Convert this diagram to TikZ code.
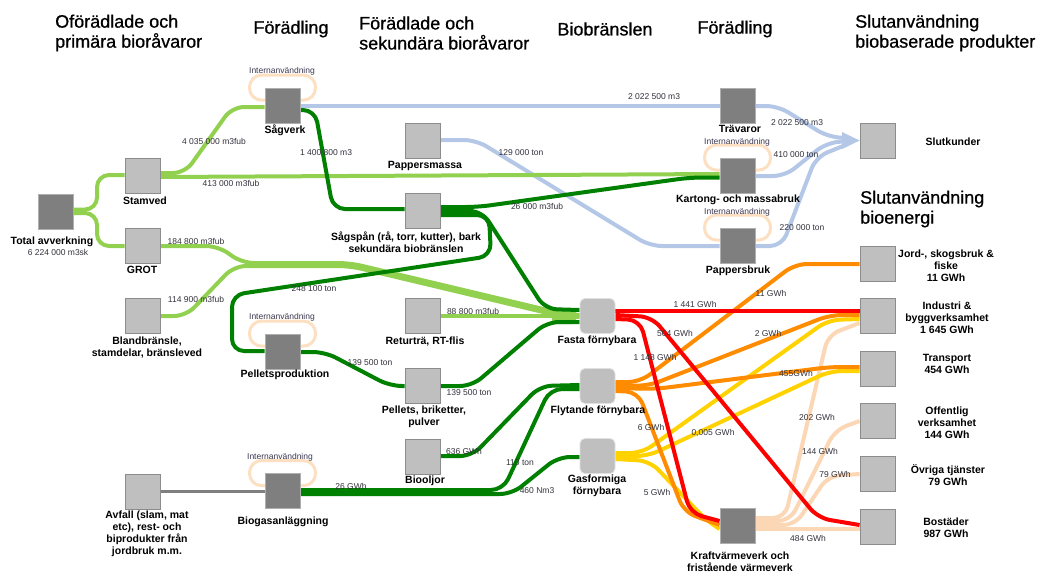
\documentclass[tikz,border=0pt]{standalone}
\usepackage{fontspec}
\setmainfont{Liberation Sans}
\newfontfamily\hdfont{Liberation Sans}[BoldFont={*}, BoldFeatures={FakeBold=0.7}]
\usetikzlibrary{calc}
\pgfdeclarelayer{bg}
\pgfsetlayers{bg,main}
\definecolor{lgc}{RGB}{146,208,80}
\definecolor{dgc}{RGB}{0,128,0}
\definecolor{blc}{RGB}{180,199,231}
\definecolor{rdc}{RGB}{255,0,0}
\definecolor{orc}{RGB}{255,140,0}
\definecolor{ylc}{RGB}{255,210,0}
\definecolor{pcc}{RGB}{252,215,182}
\definecolor{pcl}{RGB}{253,223,194}
\definecolor{lboxf}{RGB}{191,191,191}
\definecolor{lboxd}{RGB}{140,140,140}
\definecolor{dboxf}{RGB}{127,127,127}
\definecolor{dboxd}{RGB}{175,175,175}
\definecolor{smtxt}{RGB}{50,50,60}
\definecolor{intxt}{RGB}{60,55,80}
\begin{document}
\begin{tikzpicture}[x=1pt,y=-1pt,
  lbox/.style={draw=lboxd, fill=lboxf, minimum width=35pt, minimum height=35pt, inner sep=0pt, line width=0.8pt},
  dbox/.style={draw=dboxd, fill=dboxf, minimum width=35pt, minimum height=35pt, inner sep=0pt, line width=0.8pt},
  rbox/.style={draw=black!12, fill=lboxf, minimum width=35pt, minimum height=35pt, inner sep=0pt, line width=0.8pt, rounded corners=5pt},
  blab/.style={font=\fontsize{10.5}{12}\selectfont\bfseries, align=center, inner sep=0pt, text=black},
  sm/.style={font=\fontsize{8.5}{10}\selectfont, inner sep=0pt, text=smtxt},
  intl/.style={font=\fontsize{8.5}{10}\selectfont, inner sep=0pt, text=intxt},
  hd/.style={font=\hdfont\bfseries\fontsize{18}{20}\selectfont, align=left, anchor=west, inner sep=0pt},
  flow/.style={line width=4pt, rounded corners=12pt},
  lgf/.style={flow, draw=lgc},
  dgf/.style={flow, draw=dgc},
  blf/.style={flow, draw=blc},
  rdf/.style={flow, draw=rdc},
  orf/.style={flow, draw=orc},
  ylf/.style={flow, draw=ylc},
  pcf/.style={flow, draw=pcc},
  loopr/.style={draw=pcl, line width=3pt, rounded corners=12pt}
]
\useasboundingbox (0,0) rectangle (1040,574);

% ---------- boxes ----------
\node[dbox] (tot) at (55.5,211.5) {};
\node[lbox] (stam) at (142.5,175.5) {};
\node[lbox] (grot) at (142.5,246) {};
\node[lbox] (bland) at (142.5,315.5) {};
\node[lbox] (avf) at (142.5,491.5) {};
\node[dbox] (sag) at (282.5,105.5) {};
\node[dbox] (pelp) at (282.5,351.5) {};
\node[dbox] (bgas) at (282.5,491) {};
\node[lbox] (pmas) at (422.5,140.5) {};
\node[lbox] (sspan) at (422.5,210.5) {};
\node[lbox] (retur) at (422.5,315.5) {};
\node[lbox] (pell) at (422.5,386) {};
\node[lbox] (bool) at (422.5,456.5) {};
\node[rbox] (fasta) at (597.5,316) {};
\node[rbox] (flyt) at (597.5,386) {};
\node[rbox] (gas) at (597.5,456) {};
\node[dbox] (trav) at (737.5,105.5) {};
\node[dbox] (kart) at (737.5,175.5) {};
\node[dbox] (papb) at (737.5,245.5) {};
\node[dbox] (kvv) at (737.5,526) {};
\node[lbox] (slut) at (877.5,140.5) {};
\node[lbox] (jord) at (877.5,263.5) {};
\node[lbox] (ind) at (877.5,316) {};
\node[lbox] (trans) at (877.5,368.5) {};
\node[lbox] (off) at (877.5,421) {};
\node[lbox] (ovr) at (877.5,473.5) {};
\node[lbox] (bost) at (877.5,526.5) {};

% ---------- headings ----------
\node[hd] (h1) at (55,33) {Oförädlade och\\primära bioråvaror};
\node[hd, anchor=center] (h2) at (291,29) {Förädling};
\node[hd] (h3) at (359,33) {Förädlade och\\sekundära bioråvaror};
\node[hd, anchor=center] (h4) at (605,29) {Biobränslen};
\node[hd, anchor=center] (h5) at (735,29) {Förädling};
\node[hd] (h6) at (855,33) {Slutanvändning\\biobaserade produkter};
\node[hd] (h7) at (860,209) {Slutanvändning\\bioenergi};

% ---------- box labels ----------
\node[blab] (ltot) at (52,242) {Total avverkning};
\node[sm] (vtot) at (58,252) {6 224 000 m3sk};
\node[blab] (lstam) at (145,201) {Stamved};
\node[blab] (lgrot) at (142,270) {GROT};
\node[blab] (lbland) at (147,347) {Blandbränsle,\\stamdelar, bränsleved};
\node[blab] (lavf) at (147,534) {Avfall (slam, mat\\etc), rest- och\\biprodukter från\\jordbruk m.m.};
\node[blab] (lsag) at (285,130) {Sågverk};
\node[blab] (lpelp) at (285,375) {Pelletsproduktion};
\node[blab] (lbgas) at (283,522) {Biogasanläggning};
\node[blab] (lpmas) at (425,166) {Pappersmassa};
\node[blab] (lsspan) at (406,242) {Sågspån (rå, torr, kutter), bark\\sekundära biobränslen};
\node[blab] (lretur) at (425,341) {Returträ, RT-flis};
\node[blab] (lpell) at (424,417) {Pellets, briketter,\\pulver};
\node[blab] (lbool) at (425,481) {Biooljor};
\node[blab] (lfasta) at (597,341) {Fasta förnybara};
\node[blab] (lflyt) at (598,411) {Flytande förnybara};
\node[blab] (lgas) at (597,486) {Gasformiga\\förnybara};
\node[blab] (ltrav) at (740,129) {Trävaror};
\node[blab] (lkart) at (738,200) {Kartong- och massabruk};
\node[blab] (lpapb) at (738,271) {Pappersbruk};
\node[blab] (lkvv) at (740,562) {Kraftvärmeverk och\\fristående värmeverk};
\node[blab] (lslut) at (953,142) {Slutkunder};
\node[blab] (ljord) at (946,265.5) {Jord-, skogsbruk \&\\fiske\\11 GWh};
\node[blab] (lind) at (947,317.5) {Industri \&\\byggverksamhet\\1 645 GWh};
\node[blab] (ltrans) at (947,364) {Transport\\454 GWh};
\node[blab] (loff) at (947,422.5) {Offentlig\\verksamhet\\144 GWh};
\node[blab] (lovr) at (948,475) {Övriga tjänster\\79 GWh};
\node[blab] (lbost) at (946,527.5) {Bostäder\\987 GWh};

% ---------- Internanvändning ----------
\node[intl] (isag) at (282,71) {Internanvändning};
\node[intl] (ipelp) at (282,317) {Internanvändning};
\node[intl] (ibgas) at (280,457) {Internanvändning};
\node[intl] (ikart) at (737,142) {Internanvändning};
\node[intl] (ipapb) at (737,212) {Internanvändning};

% ---------- flow labels ----------
\node[sm] (f1) at (214,141) {4 035 000 m3fub};
\node[sm] (f2) at (231,183) {413 000 m3fub};
\node[sm] (f3) at (326,153) {1 400 800 m3};
\node[sm] (f4) at (654,97) {2 022 500 m3};
\node[sm] (f5) at (521,153) {129 000 ton};
\node[sm] (f6) at (537,206) {26 000 m3fub};
\node[sm] (f7) at (797,123) {2 022 500 m3};
\node[sm] (f8) at (796,155) {410 000 ton};
\node[sm] (f9) at (802,228) {220 000 ton};
\node[sm] (f10) at (196,241) {184 800 m3fub};
\node[sm] (f11) at (196,299) {114 900 m3fub};
\node[sm] (f12) at (314,289) {248 100 ton};
\node[sm] (f13) at (473,311) {88 800 m3fub};
\node[sm] (f14) at (370,363) {139 500 ton};
\node[sm] (f15) at (469,393) {139 500 ton};
\node[sm] (f16) at (464,451) {636 GWh};
\node[sm] (f17) at (520,463) {110 ton};
\node[sm] (f18) at (537,491) {460 Nm3};
\node[sm] (f19) at (351,486) {26 GWh};
\node[sm] (f20) at (695,304) {1 441 GWh};
\node[sm] (f21) at (675,333) {504 GWh};
\node[sm] (f22) at (655,357) {1 148 GWh};
\node[sm] (f23) at (771,293) {11 GWh};
\node[sm] (f24) at (768,333) {2 GWh};
\node[sm] (f25) at (796,373) {455GWh};
\node[sm] (f26) at (651,427) {6 GWh};
\node[sm] (f27) at (713,433) {0,005 GWh};
\node[sm] (f28) at (657,492) {5 GWh};
\node[sm] (f29) at (817,417) {202 GWh};
\node[sm] (f30) at (820,451) {144 GWh};
\node[sm] (f31) at (835,474) {79 GWh};
\node[sm] (f32) at (808,538) {484 GWh};

% ---------- flows (background) ----------
\begin{pgfonlayer}{bg}
\fill[white] (0,0) rectangle (1040,574);
% Internal-use loops
\draw[loopr] ([xshift=-33pt,yshift=12.5pt]sag.north) rectangle ([xshift=33pt,yshift=-12.5pt]sag.north);
\draw[loopr] ([xshift=-33pt,yshift=12.5pt]pelp.north) rectangle ([xshift=33pt,yshift=-12.5pt]pelp.north);
\draw[loopr] ([xshift=-33pt,yshift=12.5pt]bgas.north) rectangle ([xshift=33pt,yshift=-12.5pt]bgas.north);
\draw[loopr] ([xshift=-33pt,yshift=12.5pt]kart.north) rectangle ([xshift=33pt,yshift=-12.5pt]kart.north);
\draw[loopr] ([xshift=-33pt,yshift=12.5pt]papb.north) rectangle ([xshift=33pt,yshift=-12.5pt]papb.north);

% blue flows
\draw[blf] (pmas.east |- 0,140) -- (476,140) -- (650,246) -- (papb.west |- 0,246);
\draw[blf] (sag.east |- 0,106) -- (trav.west |- 0,106);
\draw[blf] (trav.east |- 0,106) -- (778,106) -- (828,137) -- (848,138);
\draw[blf] (kart.east |- 0,176) -- (785,176) -- (826,143) -- (848,141);
\draw[blf] (papb.east |- 0,246) -- (782,246) -- (816,157) -- (848,144);
\fill[blc] (842,132) -- (slut.west) -- (842,149) -- cycle;

% light green flows
\draw[lgf] (tot.east |- 0,209.5) -- (97,209.5) -- (97,175) -- (stam.west |- 0,175);
\draw[lgf] (tot.east |- 0,213) -- (97,213) -- (97,246) -- (grot.west |- 0,246);
\draw[lgf] (stam.east |- 0,173) -- (185,173) -- (232,107) -- (sag.west |- 0,107);
\draw[lgf] (stam.east |- 0,177) -- (kart.west |- 0,174);
\draw[lgf] (grot.east |- 0,246) -- (218,246) -- (242,263) -- (350,263) -- (560,313) -- (fasta.west |- 0,315);
\draw[lgf] (bland.east |- 0,316) -- (186,316) -- (234,266) -- (350,266) -- (560,316) -- (fasta.west |- 0,317);
\draw[lgf] (retur.east |- 0,316) -- (fasta.west |- 0,316);
\fill[lgc] (552,308) -- (571,308) -- (fasta.west) -- (571,324) -- (552,324) -- cycle;

% grey
\draw[line width=3pt, draw=dboxf] (avf.east |- 0,491) -- (bgas.west |- 0,491);

% dark green flows
\draw[dgf] (sag.east |- 0,110) -- (315,110) -- (333,209) -- (sspan.west |- 0,209);
\draw[dgf] (sspan.east |- 0,215) -- (489,215) -- (491,256) -- (232,295) -- (232,351) -- (pelp.west |- 0,351);
\draw[dgf] (sspan.east |- 0,211) -- (482,211) -- (545,309) -- (fasta.west |- 0,310);
\draw[dgf] (sspan.east |- 0,207) -- (478,207) -- (690,177.5) -- (kart.west |- 0,177.5);
\draw[dgf] (pelp.east |- 0,352) -- (325,352) -- (390,386) -- (pell.west |- 0,386);
\draw[dgf] (pell.east |- 0,386) -- (472,386) -- (547,322) -- (fasta.west |- 0,322);
\draw[dgf] (bool.east |- 0,456) -- (472,456) -- (540,386) -- (flyt.west |- 0,385);
\draw[dgf] (bgas.east |- 0,490) -- (503,490) -- (550,389) -- (flyt.west |- 0,389);
\draw[dgf] (bgas.east |- 0,494) -- (512,494) -- (558,457) -- (gas.west |- 0,457);

% peach (from CHP)
\draw[pcf] (kvv.east |- 0,518) -- (785,518) -- (828,335) -- (ind.west |- 0,323);
\draw[pcf] (kvv.east |- 0,521) -- (790,521) -- (835,430) -- (off.west |- 0,421);
\draw[pcf] (kvv.east |- 0,525) -- (795,525) -- (828,476) -- (ovr.west |- 0,474);
\draw[pcf] (kvv.east |- 0,529) -- (bost.west |- 0,529);

% yellow (gas)
\draw[ylf] (gas.east |- 0,453) -- (642,453) -- (828,320) -- (ind.west |- 0,319);
\draw[ylf] (gas.east |- 0,456) -- (648,456) -- (830,371) -- (trans.west |- 0,371);
\draw[ylf] (gas.east |- 0,459) -- (650,461) -- (706,520) -- (kvv.west |- 0,529);

% orange (liquid)
\draw[orf] (flyt.east |- 0,382) -- (640,382) -- (795,264) -- (jord.west |- 0,264);
\draw[orf] (flyt.east |- 0,385) -- (648,386) -- (830,315) -- (ind.west |- 0,315);
\draw[orf] (flyt.east |- 0,388) -- (655,389) -- (830,367) -- (trans.west |- 0,367);
\draw[orf] (flyt.east |- 0,391) -- (638,392) -- (684,512) -- (kvv.west |- 0,525);

% red (solid)
\draw[rdf] (fasta.east |- 0,311) -- (ind.west |- 0,311);
\draw[rdf] (fasta.east |- 0,315) -- (652,317) -- (818,518) -- (bost.west |- 0,525);
\draw[rdf] (fasta.east |- 0,319) -- (640,320) -- (690,513) -- (kvv.west |- 0,521);
\end{pgfonlayer}
\end{tikzpicture}
\end{document}
